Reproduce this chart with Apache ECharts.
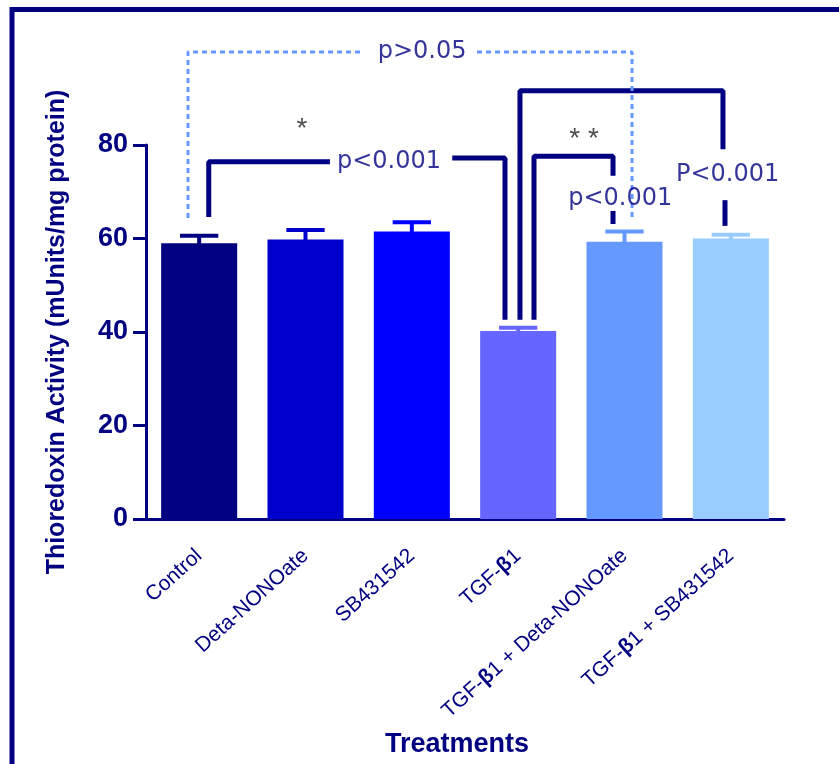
<!DOCTYPE html>
<html>
<head>
<meta charset="utf-8">
<script src="https://cdn.jsdelivr.net/npm/echarts@6/dist/echarts.min.js"></script>
<style>
  html, body { margin: 0; padding: 0; background: #fff; }
  #chart { width: 839px; height: 764px; }
</style>
</head>
<body>
<div id="chart"></div>
<script>
const categories = ['Control', 'Deta-NONOate', 'SB431542', 'TGF-β1', 'TGF-β1 + Deta-NONOate', 'TGF-β1 + SB431542'];
const means = [59.0, 59.8, 61.5, 40.2, 59.3, 60.0];
const errors = [1.6, 2.0, 2.0, 0.7, 2.2, 0.8];
const barColors = ['#000080', '#0000cc', '#0000ff', '#6666ff', '#6699ff', '#99ccff'];
const yTicks = [0, 20, 40, 60, 80];

// significance brackets, [category position, mUnits/mg]
const solidPaths = [
  [[0.09, 64.6], [0.09, 76.4], [1.23, 76.4]],
  [[2.38, 77.2], [2.876, 77.2], [2.876, 42.6]],
  [[3.149, 42.6], [3.149, 77.6], [3.892, 77.6], [3.892, 73.4]],
  [[3.892, 65.9], [3.892, 63.1]],
  [[3.017, 42.6], [3.017, 91.6], [4.926, 91.6], [4.926, 79.1]],
  [[4.945, 68.2], [4.945, 62.7]]
];
const dottedPaths = [
  [[-0.105, 64.4], [-0.105, 99.9], [1.53, 99.9]],
  [[2.613, 99.9], [4.071, 99.9], [4.071, 64.0]]
];
const pTexts = [
  ['p>0.05', 2.096, 99.9],
  ['p<0.001', 1.785, 76.4],
  ['p<0.001', 3.96, 68.5],
  ['P<0.001', 4.97, 73.6]
];
const starTexts = [
  ['*', 0.967, 83.4],
  ['* *', 3.62, 81.3]
];

const navy = '#000080';
const chart = echarts.init(document.getElementById('chart'));

const series = [
  {
    type: 'bar',
    barWidth: '71.5%',
    data: means.map((m, i) => ({ value: m, itemStyle: { color: barColors[i] } })),
    silent: true
  },
  {
    type: 'custom',
    data: means.map((m, i) => [i, m, errors[i]]),
    encode: { x: 0, y: 1 },
    z: 3,
    renderItem: function (params, api) {
      const idx = api.value(0);
      const top = api.coord([idx, api.value(1) + api.value(2)]);
      const base = api.coord([idx, api.value(1)]);
      const half = api.size([1, 0])[0] * 0.18;
      const st = { stroke: barColors[idx], lineWidth: 4 };
      return {
        type: 'group',
        children: [
          { type: 'line', shape: { x1: top[0], y1: top[1], x2: base[0], y2: base[1] + 2 }, style: st },
          { type: 'line', shape: { x1: top[0] - half, y1: top[1], x2: top[0] + half, y2: top[1] }, style: st }
        ]
      };
    }
  }
];

solidPaths.forEach(p => series.push({
  type: 'line', xAxisIndex: 1, data: p, symbol: 'none', clip: false, silent: true, z: 4,
  lineStyle: { color: navy, width: 5 }
}));
dottedPaths.forEach(p => series.push({
  type: 'line', xAxisIndex: 1, data: p, symbol: 'none', clip: false, silent: true, z: 4,
  lineStyle: { color: '#6699ff', width: 3, type: [5, 4] }
}));
series.push({
  type: 'scatter', xAxisIndex: 1, clip: false, silent: true, symbolSize: 1, z: 5,
  itemStyle: { color: 'rgba(0,0,0,0)' },
  data: pTexts.map(t => ({ name: t[0], value: [t[1], t[2]] })),
  label: {
    show: true, position: 'inside', formatter: '{b}',
    color: navy, fontSize: 24, fontFamily: 'DejaVu Sans'
  }
});
series.push({
  type: 'scatter', xAxisIndex: 1, clip: false, silent: true, symbolSize: 1, z: 5,
  itemStyle: { color: 'rgba(0,0,0,0)' },
  data: starTexts.map(t => ({ name: t[0], value: [t[1], t[2]] })),
  label: {
    show: true, position: 'inside', formatter: '{b}',
    color: '#222', fontSize: 28, fontFamily: 'Liberation Sans'
  }
});

chart.setOption({
  animation: false,
  graphic: [{
    type: 'rect', z: 10, silent: true,
    shape: { x: 12, y: 9.5, width: 900, height: 757 },
    style: { fill: 'none', stroke: navy, lineWidth: 5 }
  }],
  grid: { left: 146, right: 55, top: 145, bottom: 245 },
  xAxis: [
    {
      type: 'category',
      data: categories,
      name: 'Treatments',
      nameLocation: 'middle',
      nameGap: 212,
      nameTextStyle: { color: navy, fontSize: 27, fontWeight: 'bold', fontFamily: 'Liberation Sans', padding: [0, 16, 0, 0] },
      axisLine: { lineStyle: { color: navy, width: 3 } },
      axisTick: { alignWithLabel: true, length: 11, lineStyle: { color: navy, width: 3 } },
      axisLabel: {
        rotate: 42, margin: 34, interval: 0,
        color: navy, fontSize: 21, fontFamily: 'Liberation Sans',
        formatter: v => v.replace('β', '{b|β}'),
        rich: { b: { fontWeight: 'bold', color: navy, fontSize: 21, fontFamily: 'Liberation Sans' } }
      }
    },
    { type: 'value', min: -0.5, max: 5.5, show: false }
  ],
  yAxis: {
    type: 'value',
    min: yTicks[0],
    max: yTicks[yTicks.length - 1],
    interval: yTicks[1] - yTicks[0],
    name: 'Thioredoxin Activity (mUnits/mg protein)',
    nameLocation: 'middle',
    nameGap: 76,
    nameTextStyle: { color: navy, fontSize: 25, fontWeight: 'bold', fontFamily: 'Liberation Sans' },
    splitLine: { show: false },
    axisLine: { show: true, onZero: false, lineStyle: { color: navy, width: 3 } },
    axisTick: { show: true, length: 13, lineStyle: { color: navy, width: 3 } },
    axisLabel: { margin: 18, color: navy, fontSize: 27, fontWeight: 'bold', fontFamily: 'Liberation Sans' }
  },
  series: series
});
</script>
</body>
</html>
